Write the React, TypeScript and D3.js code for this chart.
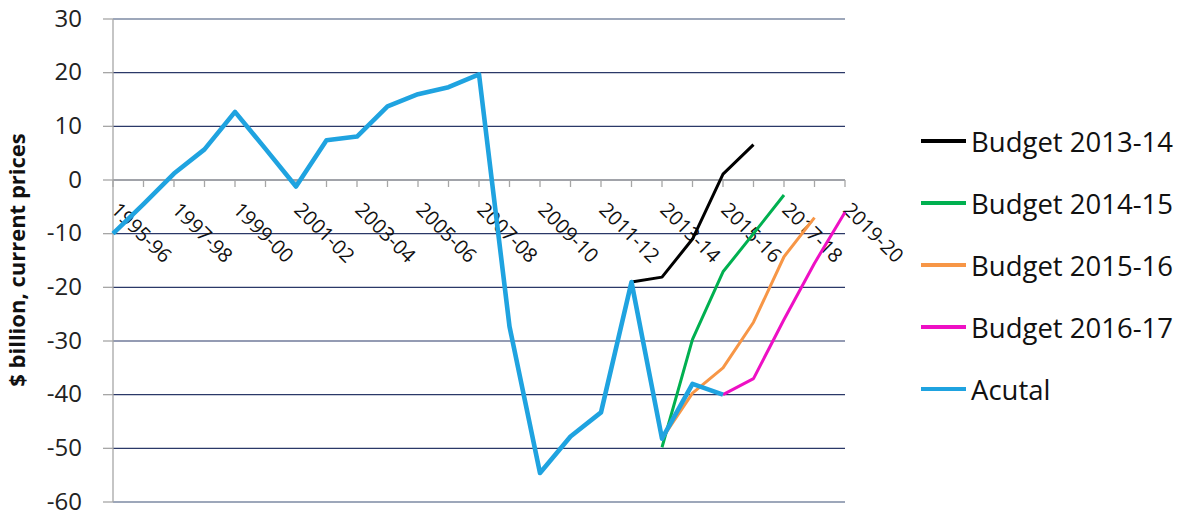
import React from "react";
import * as d3 from "d3";

// Financial years on the category axis
const categories: string[] = [
  "1995-96", "1996-97", "1997-98", "1998-99", "1999-00", "2000-01", "2001-02",
  "2002-03", "2003-04", "2004-05", "2005-06", "2006-07", "2007-08", "2008-09",
  "2009-10", "2010-11", "2011-12", "2012-13", "2013-14", "2014-15", "2015-16",
  "2016-17", "2017-18", "2018-19", "2019-20",
];

// Underlying cash balance, $ billion
const actual: number[] = [
  -10, -4.5, 1.2, 5.7, 12.7, 5.8, -1.2, 7.4, 8.1, 13.7, 16.0, 17.3, 19.7,
  -27.3, -54.6, -47.8, -43.3, -19, -48.2, -38, -40,
];
// Budget projections, each starting at the year given by `start`
const budget1314: number[] = [-19, -18.1, -11, 1.1, 6.6];
const budget1415: number[] = [-49.8, -29.7, -17.1, -10, -2.8];
const budget1516: number[] = [-48.2, -39.7, -35, -26.5, -14.3, -7];
const budget1617: number[] = [-40, -37, -26, -15.5, -6];

const yTicks: number[] = [30, 20, 10, 0, -10, -20, -30, -40, -50, -60];

const series = [
  { name: "Budget 2013-14", start: 17, values: budget1314, color: "#000000", width: 3 },
  { name: "Budget 2014-15", start: 18, values: budget1415, color: "#00B050", width: 3 },
  { name: "Budget 2015-16", start: 18, values: budget1516, color: "#F79646", width: 3 },
  { name: "Budget 2016-17", start: 20, values: budget1617, color: "#EE10C4", width: 3 },
  { name: "Acutal", start: 0, values: actual, color: "#1FA3E0", width: 4.6 },
];

const W = 1179;
const H = 515;
const FONT = "'Open Sans', 'Noto Sans', sans-serif";

export default function App() {
  const x = d3
    .scalePoint<string>()
    .domain(categories)
    .range([113, 845]);
  const y = d3.scaleLinear().domain([-60, 30]).range([502, 19]);

  const line = d3
    .line<[string, number]>()
    .x((d) => x(d[0]) as number)
    .y((d) => y(d[1]));

  const x0 = 113;
  const x1 = 845;
  const y0 = y(0);

  return (
    <svg
      width={W}
      height={H}
      style={{ position: "absolute", left: 0, top: 0, background: "#fff" }}
      fontFamily={FONT}
    >
      <rect width={W} height={H} fill="#fff" />
      {/* horizontal gridlines */}
      {yTicks.map((t) => (
        <line
          key={"g" + t}
          x1={x0}
          x2={x1}
          y1={y(t)}
          y2={y(t)}
          stroke={t === 30 || t === -60 ? "#7D8AA3" : "#2B3868"}
          strokeWidth={t === 30 || t === -60 ? 1.6 : 1.1}
        />
      ))}
      {/* value axis */}
      <line x1={x0} x2={x0} y1={y(30)} y2={y(-60)} stroke="#A6A6A6" strokeWidth={1.3} />
      {yTicks.map((t) => (
        <g key={"yt" + t}>
          <line x1={x0 - 10} x2={x0} y1={y(t)} y2={y(t)} stroke="#A6A6A6" strokeWidth={1.3} />
          <text
            x={82}
            y={y(t) - 2}
            textAnchor="end"
            dominantBaseline="central"
            fontSize={24}
            fill="#222"
          >
            {t}
          </text>
        </g>
      ))}
      <text
        transform={`translate(25,260) rotate(-90)`}
        textAnchor="middle"
        fontSize={22}
        fontWeight="bold"
        fill="#111"
      >
        $ billion, current prices
      </text>

      {/* category axis at zero */}
      <line x1={x0} x2={x1} y1={y0} y2={y0} stroke="#A6A6A6" strokeWidth={1.3} />
      {categories.map((c) => (
        <line
          key={"xt" + c}
          x1={x(c)}
          x2={x(c)}
          y1={y0}
          y2={y0 + 7}
          stroke="#A6A6A6"
          strokeWidth={1.3}
        />
      ))}
      {categories.map((c, i) =>
        i % 2 === 0 ? (
          <text
            key={"xl" + c}
            transform={`translate(${(x(c) as number) - 3},${y0 + 31}) rotate(45)`}
            fontSize={20}
            fill="#111"
          >
            {c}
          </text>
        ) : null
      )}

      {/* series lines */}
      {series.map((s) => {
        const pts: [string, number][] = s.values.map((v, i) => [categories[s.start + i], v]);
        return (
          <path
            key={s.name}
            d={line(pts) || ""}
            fill="none"
            stroke={s.color}
            strokeWidth={s.width}
            strokeLinejoin="round"
          />
        );
      })}

      {/* legend */}
      {series.map((s, i) => {
        const ly = 141 + i * 62;
        return (
          <g key={"lg" + s.name}>
            <line x1={921} x2={966} y1={ly} y2={ly} stroke={s.color} strokeWidth={4} />
            <text x={971} y={ly} dominantBaseline="central" fontSize={27.5} fill="#111">
              {s.name}
            </text>
          </g>
        );
      })}
    </svg>
  );
}
